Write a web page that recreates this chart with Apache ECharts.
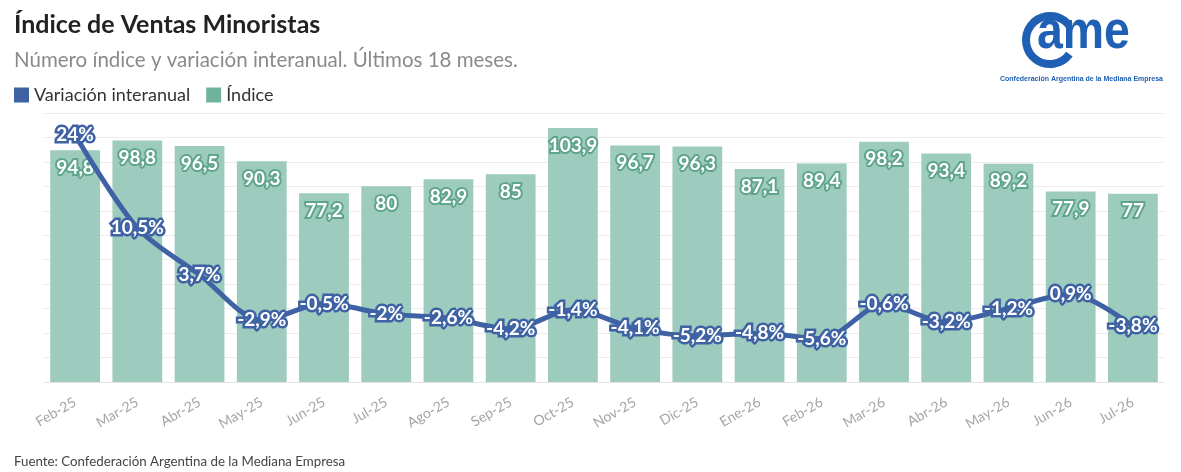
<!DOCTYPE html>
<html>
<head>
<meta charset="utf-8">
<script src="https://cdn.jsdelivr.net/npm/echarts@6/dist/echarts.min.js"></script>
<style>
html,body{margin:0;padding:0;background:#fff;}
#main{width:1181px;height:472px;}
</style>
</head>
<body>
<div id="main"></div>
<script>
var meses = ['Feb-25','Mar-25','Abr-25','May-25','Jun-25','Jul-25','Ago-25','Sep-25','Oct-25','Nov-25','Dic-25','Ene-26','Feb-26','Mar-26','Abr-26','May-26','Jun-26','Jul-26'];
var indice = [94.8, 98.8, 96.5, 90.3, 77.2, 80, 82.9, 85, 103.9, 96.7, 96.3, 87.1, 89.4, 98.2, 93.4, 89.2, 77.9, 77];
var variacion = [24, 10.5, 3.7, -2.9, -0.5, -2, -2.6, -4.2, -1.4, -4.1, -5.2, -4.8, -5.6, -0.6, -3.2, -1.2, 0.9, -3.8];

var FONT = 'Lato, "Noto Sans", sans-serif';
var AZUL = '#3e62a3';
var VERDE = '#9dcbbd';
var LOGO = '#1f5fb4';

// coma decimal
function coma(v){ return String(v).replace('.', ','); }

var myChart = echarts.init(document.getElementById('main'));

var option = {
    backgroundColor: '#fff',
    animation: false,
    textStyle: { fontFamily: FONT },
    title: [{
        text: 'Índice de Ventas Minoristas',
        left: 9, top: 7,
        textStyle: { fontFamily: FONT, fontSize: 25, fontWeight: 'bold', color: '#222' }
    }, {
        text: 'Número índice y variación interanual. Últimos 18 meses.',
        left: 9, top: 45,
        textStyle: { fontFamily: FONT, fontSize: 20.5, fontWeight: 'normal', color: '#8a8a8a' }
    }, {
        text: 'Fuente: Confederación Argentina de la Mediana Empresa',
        left: 9, top: 450,
        textStyle: { fontFamily: FONT, fontSize: 13.3, fontWeight: 'normal', color: '#444' }
    }],
    legend: {
        left: 9, top: 81,
        itemWidth: 15, itemHeight: 15, itemGap: 16,
        icon: 'rect',
        textStyle: { fontFamily: FONT, fontSize: 18, color: '#333' },
        data: [
            { name: 'Variación interanual', itemStyle: { color: AZUL } },
            { name: 'Índice', itemStyle: { color: '#6fb39f' } }
        ]
    },
    grid: { left: 44, right: 17, top: 113, height: 269 },
    xAxis: {
        type: 'category',
        data: meses,
        axisLine: { lineStyle: { color: '#e4e4e4' } },
        axisTick: { alignWithLabel: true, length: 6, lineStyle: { color: '#d0d0d0' } },
        axisLabel: { rotate: 30, color: '#a5a5a5', fontSize: 14, margin: 19, fontFamily: FONT }
    },
    yAxis: [{
        type: 'value', min: 0, max: 110, interval: 10,
        axisLabel: { show: false }, axisLine: { show: false }, axisTick: { show: false },
        splitLine: { lineStyle: { color: '#ececec' } }
    }, {
        type: 'value', min: -11.9, max: 27.2,
        axisLabel: { show: false }, axisLine: { show: false }, axisTick: { show: false },
        splitLine: { show: false }
    }],
    series: [{
        name: 'Índice',
        type: 'bar',
        data: indice,
        barWidth: '80%',
        itemStyle: { color: VERDE },
        label: {
            show: true, position: 'insideTop', distance: 8,
            fontFamily: FONT, fontSize: 19, fontWeight: 'bold', color: '#fff',
            textBorderColor: '#5fa58e', textBorderWidth: 4,
            formatter: function(p){ return coma(p.value); }
        }
    }, {
        name: 'Variación interanual',
        type: 'line',
        yAxisIndex: 1,
        data: variacion,
        smooth: 0.3,
        symbol: 'circle', symbolSize: 2,
        lineStyle: { color: AZUL, width: 5 },
        itemStyle: { color: AZUL },
        label: {
            show: true, position: 'inside',
            fontFamily: FONT, fontSize: 19, fontWeight: 'bold', color: '#fff',
            textBorderColor: AZUL, textBorderWidth: 5,
            formatter: function(p){ return coma(p.value) + '%'; }
        },
        z: 5
    }],
    graphic: [{
        type: 'arc',
        shape: { cx: 1050, cy: 40, r: 24, startAngle: Math.PI * 0.2, endAngle: Math.PI * 1.8, clockwise: true },
        style: { stroke: LOGO, lineWidth: 8, fill: null }
    }, {
        type: 'text',
        left: 1037, top: 6,
        scaleX: 0.86,
        style: { text: 'ame', fontFamily: '"Liberation Sans", Arial, sans-serif', fontSize: 54, fontWeight: 'bold', fill: LOGO }
    }, {
        type: 'text',
        left: 1000, top: 76,
        style: { text: 'Confederación Argentina de la Mediana Empresa', fontFamily: '"Liberation Sans", Arial, sans-serif', fontSize: 7, fontWeight: 'bold', fill: LOGO }
    }]
};

myChart.setOption(option);
</script>
</body>
</html>
